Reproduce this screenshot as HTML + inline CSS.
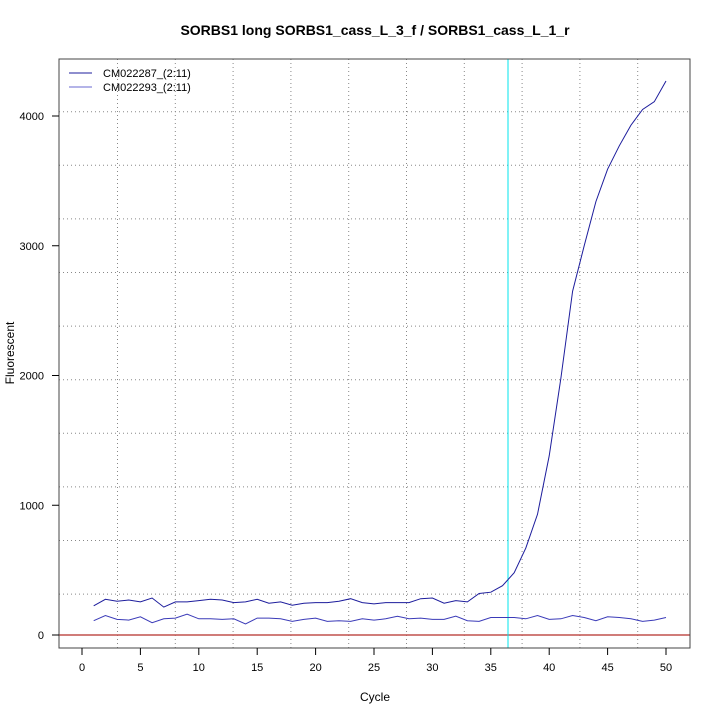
<!DOCTYPE html>
<html><head><meta charset="utf-8"><style>
html,body{margin:0;padding:0;background:#fff;}
svg{display:block;font-family:"Liberation Sans",sans-serif;}
</style></head><body>
<svg id="s" width="720" height="720" viewBox="0 0 720 720" xmlns="http://www.w3.org/2000/svg">
<rect width="720" height="720" fill="#fff"/>
<text x="375" y="35" text-anchor="middle" font-size="14" font-weight="bold">SORBS1 long SORBS1_cass_L_3_f / SORBS1_cass_L_1_r</text>
<g id="grid" stroke="#888" stroke-width="1" stroke-dasharray="1,3" fill="none"></g>
<line x1="59" y1="635" x2="690" y2="635" stroke="#c0504d" stroke-width="1.5"/>
<line x1="508" y1="59" x2="508" y2="648" stroke="#00e5ee" stroke-width="1"/>
<polyline id="p1" fill="none" stroke="#1c1c9c" stroke-width="1"/>
<polyline id="p2" fill="none" stroke="#3a3ab8" stroke-width="1"/>
<rect x="59" y="59" width="631" height="589" fill="none" stroke="#444" stroke-width="1"/>
<g id="ax" stroke="#000" fill="none"></g>
<g id="lab" font-size="11" fill="#000"></g>
<line x1="69" y1="73" x2="92" y2="73" stroke="#1c1c9c"/>
<line x1="69" y1="87" x2="92" y2="87" stroke="#6a6ad0"/>
<text x="103" y="77" font-size="11">CM022287_(2:11)</text>
<text x="103" y="91" font-size="11">CM022293_(2:11)</text>
<text x="375" y="701" text-anchor="middle" font-size="12">Cycle</text>
<text transform="translate(14,353) rotate(-90)" text-anchor="middle" font-size="12">Fluorescent</text>
</svg>
<script>
var X=function(c){return 82+c*11.68;},Y=function(v){return 635-v*0.12975;};
var g=document.getElementById('grid'),ns="http://www.w3.org/2000/svg",h='';
for(var k=0;k<10;k++){var x=117.5+57.8*k;h+='<line x1="'+x+'" y1="59" x2="'+x+'" y2="648"/>';}
for(var k=0;k<10;k++){var y=111.7+53.6*k;h+='<line x1="59" y1="'+y+'" x2="690" y2="'+y+'"/>';}
g.innerHTML=h;
var a='',l='';
for(var c=0;c<=50;c+=5){var x=X(c);a+='<line x1="'+x+'" y1="648" x2="'+x+'" y2="655"/>';l+='<text x="'+x+'" y="671" text-anchor="middle">'+c+'</text>';}
for(var v=0;v<=4000;v+=1000){var y=Y(v);a+='<line x1="52" y1="'+y+'" x2="59" y2="'+y+'"/>';l+='<text x="44" y="'+(y+4)+'" text-anchor="end">'+v+'</text>';}
document.getElementById('ax').innerHTML=a;document.getElementById('lab').innerHTML=l;
var d1=[225,275,260,270,255,285,215,255,255,265,275,270,250,255,275,245,255,230,245,250,250,260,280,250,240,250,250,250,280,285,245,265,255,320,330,380,480,670,930,1380,1980,2650,3000,3340,3590,3770,3930,4050,4110,4270];
var d2=[110,150,120,115,140,95,125,130,160,125,125,120,125,85,130,130,125,105,120,130,105,110,105,125,115,125,145,125,130,120,120,145,110,105,135,135,135,125,150,120,125,150,135,110,140,135,125,105,115,135];
function pts(d){return d.map(function(v,i){return X(i+1).toFixed(1)+','+Y(v).toFixed(1);}).join(' ');}
document.getElementById('p1').setAttribute('points',pts(d1));
document.getElementById('p2').setAttribute('points',pts(d2));
</script>
</body></html>
